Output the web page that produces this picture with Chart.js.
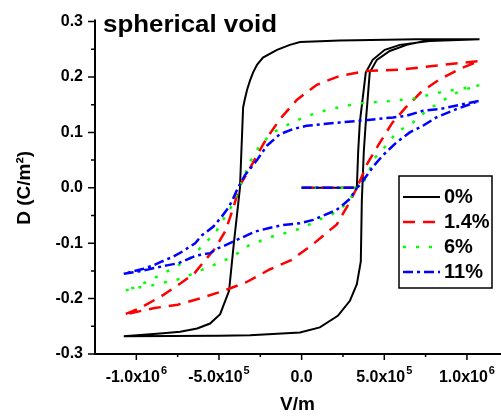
<!DOCTYPE html>
<html lang="en">
<head>
<meta charset="UTF-8">
<title>spherical void</title>
<script src="https://cdn.jsdelivr.net/npm/chart.js@4.4.1/dist/chart.umd.min.js"></script>
<style>
  html, body { margin: 0; padding: 0; background: #fff; }
  canvas { display: block; }
</style>
</head>
<body>
<canvas id="loop" width="501" height="419"></canvas>
<script>
// D-E hysteresis loops, E in V/m, D in C/m^2.
// every loop: virgin curve, then descending branch, then ascending branch.
// for the voided samples the ascending branch stops where it meets the
// virgin curve, since above that point the two coincide.
const seriesNames = ['0%', '1.4%', '6%', '11%'];

const virginE0 = [0, 3.34e5, 3.42e5, 3.52e5, 3.88e5, 4.30e5, 5.03e5, 5.94e5, 7.74e5, 1.076e6];
const virginD0 = [0, 0, 0.065, 0.118, 0.208, 0.231, 0.249, 0.258, 0.265, 0.268];
const downE0 = [7.0e5, 2.31e5, -1.0e4, -7.1e4, -1.49e5, -2.34e5, -2.70e5, -2.94e5, -3.12e5, -3.30e5, -3.45e5, -3.54e5, -3.73e5, -4.09e5, -4.39e5, -4.93e5, -5.54e5, -6.32e5, -7.35e5, -8.56e5, -1.076e6];
const downD0 = [0.268, 0.266, 0.263, 0.258, 0.249, 0.235, 0.222, 0.208, 0.194, 0.177, 0.158, 0.145, 0.0, -0.097, -0.186, -0.228, -0.245, -0.254, -0.260, -0.263, -0.268];
const upE0 = [-5.0e5, -3.12e5, -1.0e4, 1.1e5, 2.19e5, 2.92e5, 3.34e5, 3.58e5, 3.64e5, 3.76e5, 3.88e5, 4.12e5, 4.55e5, 5.33e5, 6.36e5, 7.56e5, 1.076e6];
const upD0 = [-0.267, -0.266, -0.261, -0.252, -0.231, -0.204, -0.174, -0.133, -0.025, 0.065, 0.118, 0.208, 0.231, 0.247, 0.258, 0.266, 0.268];

const virginE1 = [0, 3.34e5, 4.0e5, 4.7e5, 5.5e5, 6.3e5, 7.2e5, 8.3e5, 9.6e5, 1.076e6];
const virginD1 = [0, 0, 0.045, 0.080, 0.118, 0.145, 0.172, 0.195, 0.215, 0.229];
const downE1 = [7.93e5, 5.94e5, 3.94e5, 2.31e5, 9.2e4, -2.8e4, -1.31e5, -2.1e5, -2.7e5, -3.24e5, -3.73e5, -4.13e5, -4.6e5, -5.2e5, -5.9e5, -6.5e5, -7.3e5, -8.5e5, -9.9e5, -1.076e6];
const downD1 = [0.220, 0.213, 0.211, 0.202, 0.186, 0.159, 0.124, 0.090, 0.059, 0.029, 0.005, -0.036, -0.077, -0.108, -0.133, -0.155, -0.172, -0.196, -0.219, -0.229];
const upE1 = [-8.9e5, -7.49e5, -6.08e5, -4.63e5, -3.32e5, -1.91e5, -6.0e4, 6.8e4, 2.13e5, 2.92e5, 3.34e5];
const upD1 = [-0.217, -0.211, -0.199, -0.185, -0.170, -0.147, -0.130, -0.102, -0.066, -0.025, 0.0];

const virginE2 = [0, 3.34e5, 3.72e5, 4.0e5, 4.4e5, 5.13e5, 5.74e5, 6.74e5, 7.55e5, 8.35e5, 9.16e5, 9.96e5, 1.076e6];
const virginD2 = [0, 0, 0.008, 0.026, 0.053, 0.077, 0.100, 0.118, 0.139, 0.154, 0.169, 0.178, 0.185];
const downE2 = [8.35e5, 6.72e5, 5.15e5, 3.34e5, 1.71e5, 6.8e4, -1.0e4, -8.9e4, -1.73e5, -2.52e5, -3.12e5, -3.54e5, -3.85e5, -4.21e5, -4.67e5, -5.19e5, -5.98e5, -6.75e5, -7.65e5, -8.45e5, -9.26e5, -1.011e6, -1.076e6];
const downD2 = [0.172, 0.161, 0.156, 0.152, 0.142, 0.133, 0.124, 0.113, 0.100, 0.077, 0.047, 0.016, -0.007, -0.032, -0.054, -0.080, -0.104, -0.127, -0.143, -0.156, -0.168, -0.180, -0.186];
const upE2 = [-9.87e5, -9.03e5, -8.2e5, -7.29e5, -6.5e5, -5.64e5, -4.78e5, -3.97e5, -3.14e5, -1.51e5, -5.9e4, 2.0e4, 1.1e5, 1.83e5, 2.74e5, 3.34e5];
const upD2 = [-0.180, -0.176, -0.170, -0.164, -0.154, -0.143, -0.133, -0.120, -0.103, -0.085, -0.079, -0.070, -0.057, -0.048, -0.029, 0.0];

const virginE3 = [0, 3.34e5, 3.52e5, 4.4e5, 4.93e5, 5.74e5, 6.54e5, 7.34e5, 8.15e5, 9.36e5, 1.076e6];
const virginD3 = [0, 0, 0.005, 0.041, 0.059, 0.082, 0.100, 0.112, 0.127, 0.142, 0.157];
const downE3 = [9.76e5, 8.35e5, 7.34e5, 6.34e5, 5.53e5, 4.53e5, 3.52e5, 2.31e5, 1.30e5, 3.0e4, -5.1e4, -1.31e5, -2.1e5, -2.7e5, -3.42e5, -3.85e5, -4.15e5, -4.43e5, -4.83e5, -5.34e5, -6.04e5, -6.44e5, -7.21e5, -7.75e5, -8.45e5, -8.96e5, -9.56e5, -1.076e6];
const downD3 = [0.151, 0.142, 0.139, 0.130, 0.127, 0.124, 0.121, 0.118, 0.115, 0.112, 0.106, 0.097, 0.076, 0.050, 0.023, 0.000, -0.020, -0.036, -0.052, -0.070, -0.086, -0.100, -0.115, -0.124, -0.133, -0.140, -0.146, -0.155];
const upE3 = [-9.87e5, -8.15e5, -7.45e5, -6.34e5, -5.54e5, -5.13e5, -4.63e5, -3.93e5, -3.32e5, -2.82e5, -2.02e5, -1.11e5, -1.0e4, 7.0e4, 1.41e5, 2.11e5, 2.61e5, 2.92e5, 3.34e5];
const upD3 = [-0.151, -0.140, -0.136, -0.122, -0.118, -0.110, -0.104, -0.094, -0.086, -0.079, -0.073, -0.067, -0.064, -0.058, -0.049, -0.040, -0.028, -0.020, 0.0];

const xMajor = [-1.0e6, -5.0e5, 0, 5.0e5, 1.0e6];
const xMinor = [-7.5e5, -2.5e5, 2.5e5, 7.5e5];
const yMajor = [-0.3, -0.2, -0.1, 0.0, 0.1, 0.2, 0.3];
const yMinor = [-0.25, -0.15, -0.05, 0.05, 0.15, 0.25];

const FONT = "'Liberation Sans', Arial, sans-serif";

function loop(parts) {
  const pts = [];
  parts.forEach(([es, ds]) => es.forEach((e, i) => pts.push({ x: e, y: ds[i] })));
  return pts;
}

const styles = [
  { color: '#000000', dash: [], width: 2 },
  { color: '#ff0000', dash: [12, 8], width: 2.5 },
  { color: '#00ff00', dash: [3, 10], width: 2.5 },
  { color: '#0000ff', dash: [10, 4, 3, 4], width: 2.5 }
];

const paths = [
  loop([[virginE0, virginD0], [downE0, downD0], [upE0, upD0]]),
  loop([[virginE1, virginD1], [downE1, downD1], [upE1, upD1]]),
  loop([[virginE2, virginD2], [downE2, downD2], [upE2, upD2]]),
  loop([[virginE3, virginD3], [downE3, downD3], [upE3, upD3]])
];

const datasets = paths.map((data, i) => ({
  label: seriesNames[i],
  data,
  showLine: true,
  borderColor: styles[i].color,
  borderWidth: styles[i].width,
  borderDash: styles[i].dash,
  pointRadius: 0,
  tension: 0,
  fill: false,
  order: 4 - i
}));

// split a field value into "m.mx10" and its power of ten
function sciParts(v) {
  if (v === 0) return ['0.0', ''];
  const exp = Math.floor(Math.log10(Math.abs(v)) + 1e-9);
  const mant = (v / Math.pow(10, exp)).toFixed(1);
  return [mant + 'x10', String(exp)];
}

function setTicks(scale, major, minor) {
  scale.ticks = major.concat(minor).sort((a, b) => a - b).map(v => ({ value: v }));
}

// axis lines, outward tick marks, x labels with raised exponents,
// caption and boxed legend
const framePlugin = {
  id: 'frame',
  afterDraw(chart) {
    const { ctx, chartArea: a, scales } = chart;
    const xs = scales.x, ys = scales.y;
    ctx.save();
    ctx.strokeStyle = '#000';
    ctx.lineWidth = 2;
    ctx.beginPath();
    ctx.moveTo(a.left, a.top - 2);
    ctx.lineTo(a.left, a.bottom);
    ctx.lineTo(a.right + 1, a.bottom);
    ctx.stroke();

    ctx.lineWidth = 1.5;
    ctx.beginPath();
    xs.ticks.forEach(t => {
      const px = xs.getPixelForValue(t.value);
      const len = xMajor.includes(t.value) ? 6 : 3;
      ctx.moveTo(px, a.bottom);
      ctx.lineTo(px, a.bottom + len);
    });
    ys.ticks.forEach(t => {
      const py = ys.getPixelForValue(t.value);
      const len = yMajor.includes(t.value) ? 7 : 4;
      ctx.moveTo(a.left, py);
      ctx.lineTo(a.left - len, py);
    });
    ctx.stroke();

    ctx.fillStyle = '#000';
    ctx.textAlign = 'left';
    ctx.textBaseline = 'alphabetic';
    const mainFont = 'bold 16px ' + FONT;
    const supFont = 'bold 11px ' + FONT;
    xMajor.forEach(v => {
      const [base, exp] = sciParts(v);
      ctx.font = mainFont;
      const w1 = ctx.measureText(base).width;
      ctx.font = supFont;
      const w2 = exp ? ctx.measureText(exp).width + 1 : 0;
      const x0 = xs.getPixelForValue(v) - (w1 + w2) / 2;
      const yb = a.bottom + 28;
      ctx.font = mainFont;
      ctx.fillText(base, x0, yb);
      if (exp) {
        ctx.font = supFont;
        ctx.fillText(exp, x0 + w1 + 1, yb - 8);
      }
    });

    // caption
    ctx.font = 'bold 23px ' + FONT;
    const cap = 'spherical void';
    const w = ctx.measureText(cap).width;
    ctx.save();
    ctx.translate(a.left + 8, a.top + 10);
    ctx.scale(174 / w, 1);
    ctx.fillText(cap, 0, 0);
    ctx.restore();

    // legend box
    const bx = 399, by = 176, bw = 93, bh = 112;
    ctx.fillStyle = '#fff';
    ctx.fillRect(bx, by, bw, bh);
    ctx.lineWidth = 1.5;
    ctx.strokeStyle = '#000';
    ctx.strokeRect(bx, by, bw, bh);
    ctx.font = 'bold 20px ' + FONT;
    ctx.textBaseline = 'middle';
    chart.data.datasets.forEach((ds, i) => {
      const ly = by + 21 + i * 25;
      ctx.save();
      ctx.strokeStyle = ds.borderColor;
      ctx.lineWidth = ds.borderWidth;
      ctx.setLineDash(ds.borderDash);
      ctx.beginPath();
      ctx.moveTo(bx + 4, ly);
      ctx.lineTo(bx + 41, ly);
      ctx.stroke();
      ctx.restore();
      ctx.fillStyle = '#000';
      ctx.fillText(ds.label, bx + 45, ly);
    });
    ctx.restore();
  }
};

new Chart(document.getElementById('loop'), {
  type: 'scatter',
  data: { datasets },
  options: {
    responsive: false,
    animation: false,
    devicePixelRatio: 1,
    layout: { padding: { top: 19, right: 1, left: 0, bottom: 0 } },
    plugins: { legend: { display: false }, tooltip: { enabled: false } },
    scales: {
      x: {
        type: 'linear',
        min: -1.25e6,
        max: 1.2e6,
        afterBuildTicks: s => setTicks(s, xMajor, xMinor),
        afterFit: s => { s.height = 65; },
        grid: { display: false, drawTicks: false },
        border: { display: false },
        ticks: { autoSkip: false, maxRotation: 0, callback: () => '' },
        title: {
          display: true,
          text: 'V/m',
          color: '#000',
          font: { family: FONT, size: 19, weight: 'bold' },
          padding: { top: 0, bottom: 3 }
        }
      },
      y: {
        type: 'linear',
        min: -0.3,
        max: 0.3,
        afterBuildTicks: s => setTicks(s, yMajor, yMinor),
        afterFit: s => { s.width = 95; },
        grid: { display: false, drawTicks: false },
        border: { display: false },
        ticks: {
          autoSkip: false,
          padding: 12,
          color: '#000',
          font: { family: FONT, size: 16, weight: 'bold' },
          callback: v => (yMajor.includes(v) ? v.toFixed(1) : '')
        },
        title: {
          display: true,
          text: 'D (C/m\u00b2)',
          color: '#000',
          font: { family: FONT, size: 19, weight: 'bold' },
          padding: { top: 13, bottom: 0 }
        }
      }
    }
  },
  plugins: [framePlugin]
});
</script>
</body>
</html>
